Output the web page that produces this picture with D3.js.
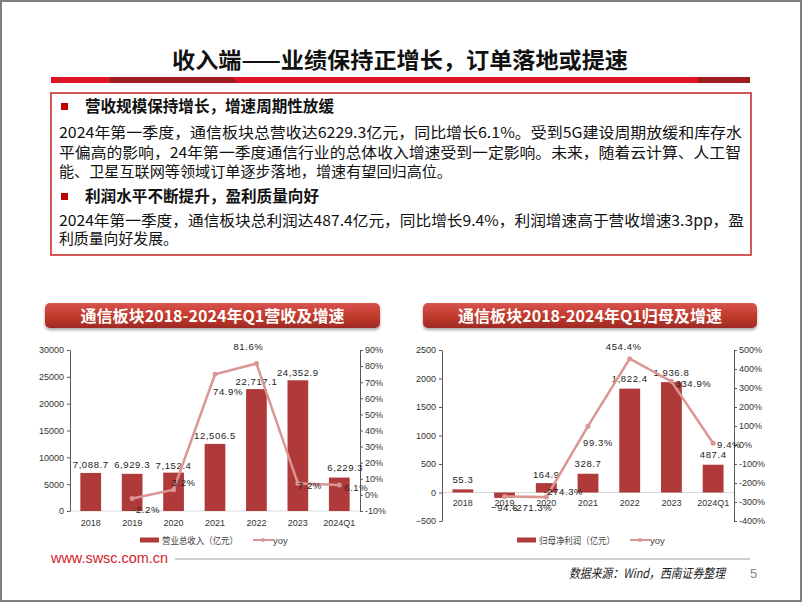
<!DOCTYPE html>
<html><head><meta charset="utf-8">
<script src="https://cdn.jsdelivr.net/npm/d3@7/dist/d3.min.js"></script>
<style>
body{margin:0;background:#fff;}
svg{display:block;}
</style></head>
<body><svg id="c" width="802" height="602"></svg>
<script>
// ---------- DATA ----------
const categories = ["2018","2019","2020","2021","2022","2023","2024Q1"];
const revenue = [7088.7, 6929.3, 7152.4, 12506.5, 22717.1, 24352.9, 6229.3];
const revenueYoy = [null, -2.2, 3.2, 74.9, 81.6, 7.2, 6.1];
const profit = [55.3, -94.6, 164.9, 328.7, 1822.4, 1936.8, 487.4];
const profitYoy = [null, -271.3, -274.3, 99.3, 454.4, 334.9, 9.4];
const revTicks = [0, 5000, 10000, 15000, 20000, 25000, 30000];
const revYoyTicks = [-10, 0, 10, 20, 30, 40, 50, 60, 70, 80, 90];
const profitTicks = [-500, 0, 500, 1000, 1500, 2000, 2500];
const profitYoyTicks = [-400, -300, -200, -100, 0, 100, 200, 300, 400, 500];

const pageTitle = "收入端——业绩保持正增长，订单落地或提速";
const heading1 = "营收规模保持增长，增速周期性放缓";
const body1 = ["2024年第一季度，通信板块总营收达6229.3亿元，同比增长6.1%。受到5G建设周期放缓和库存水",
               "平偏高的影响，24年第一季度通信行业的总体收入增速受到一定影响。未来，随着云计算、人工智",
               "能、卫星互联网等领域订单逐步落地，增速有望回归高位。"];
const heading2 = "利润水平不断提升，盈利质量向好";
const body2 = ["2024年第一季度，通信板块总利润达487.4亿元，同比增长9.4%，利润增速高于营收增速3.3pp，盈",
               "利质量向好发展。"];
const chart1Title = "通信板块2018-2024年Q1营收及增速";
const chart2Title = "通信板块2018-2024年Q1归母及增速";
const legend1Bar = "营业总收入（亿元）";
const legend2Bar = "归母净利润（亿元）";
const legendLine = "yoy";
const siteText = "www.swsc.com.cn";
const sourceText = "数据来源：Wind，西南证券整理";
const pageNum = "5";

// ---------- STYLE ----------
const CJK = "'Noto Sans CJK SC','Noto Sans',sans-serif";
const SANS = "'Liberation Sans',Arial,sans-serif";
const BAR = "#b03a3a";
const LINE = "#d99694";

const svg = d3.select("#c");
const defs = svg.append("defs");

// page border
svg.append("rect").attr("x",1).attr("y",1).attr("width",800).attr("height",600)
  .attr("fill","#fff").attr("stroke","#7f7f7f").attr("stroke-width",2);

// title
svg.append("text").attr("x",400).attr("y",68).attr("text-anchor","middle")
  .attr("font-family",CJK).attr("font-weight",700).attr("font-size",22)
  .attr("textLength",456).attr("lengthAdjust","spacingAndGlyphs")
  .attr("fill","#111").text(pageTitle);

// red bar under title
const tb = svg.append("g");
tb.append("rect").attr("x",51).attr("y",77).attr("width",699).attr("height",6).attr("fill","#dc1424");
tb.append("path").attr("d","M110,77 L232,77 L238,83 L110,83 Z").attr("fill","#9e1b1f");
tb.append("rect").attr("x",698).attr("y",77).attr("width",52).attr("height",6).attr("fill","#9e1b1f");

// text box
svg.append("rect").attr("x",51).attr("y",93).attr("width",700).attr("height",162)
  .attr("fill","none").attr("stroke","#c9302c").attr("stroke-width",1.6);

function bullet(y, txt, w){
  svg.append("rect").attr("x",61).attr("y",y-4).attr("width",7).attr("height",7).attr("fill","#c00000");
  svg.append("text").attr("x",85).attr("y",y+5).attr("font-family",CJK).attr("font-weight",700)
    .attr("font-size",15.5).attr("fill","#111").attr("textLength",w).attr("lengthAdjust","spacingAndGlyphs").text(txt);
}
function bodyLine(y, txt, w){
  svg.append("text").attr("x",59).attr("y",y+5).attr("font-family",CJK).attr("font-size",15)
    .attr("fill","#111").attr("textLength",w).attr("lengthAdjust","spacingAndGlyphs").text(txt);
}
bullet(107, heading1, 249);
const b1w = [683, 682, 393];
body1.forEach((t,i)=>bodyLine(133 + i*19.5, t, b1w[i]));
bullet(197, heading2, 234);
const b2w = [685, 119];
body2.forEach((t,i)=>bodyLine(221 + i*18, t, b2w[i]));

// banner gradient + shadow
const g1 = defs.append("linearGradient").attr("id","bg").attr("x1",0).attr("y1",0).attr("x2",0).attr("y2",1);
g1.append("stop").attr("offset","0%").attr("stop-color","#d9534f");
g1.append("stop").attr("offset","55%").attr("stop-color","#c0392b");
g1.append("stop").attr("offset","100%").attr("stop-color","#9e2a24");
const f = defs.append("filter").attr("id","sh").attr("x","-5%").attr("y","-20%").attr("width","110%").attr("height","160%");
f.append("feDropShadow").attr("dx",0).attr("dy",2).attr("stdDeviation",1.5).attr("flood-color","#000").attr("flood-opacity",0.35);

function banner(x, w, txt){
  svg.append("rect").attr("x",x).attr("y",303).attr("width",w).attr("height",25).attr("rx",5)
    .attr("fill","url(#bg)").attr("filter","url(#sh)");
  svg.append("text").attr("x",x+w/2).attr("y",321.5).attr("text-anchor","middle")
    .attr("font-family",CJK).attr("font-weight",700).attr("font-size",16).attr("fill","#fff")
    .attr("textLength",264).attr("lengthAdjust","spacingAndGlyphs").text(txt);
}
banner(45, 335, chart1Title);
banner(423, 334, chart2Title);

// ---------- CHART FUNCTION ----------
function chart(opt){
  const g = svg.append("g");
  const x = d3.scaleBand().domain(categories).range([opt.x0, opt.x1]).paddingInner(0.5).paddingOuter(0.25);
  const yL = d3.scaleLinear().domain(opt.yLDom).range([opt.yBot, opt.yTop]);
  const yR = d3.scaleLinear().domain(opt.yRDom).range([opt.yBot, opt.yTop]);

  // baseline
  g.append("line").attr("x1",opt.x0).attr("x2",opt.x1).attr("y1",yL(0)).attr("y2",yL(0))
    .attr("stroke","#d9d9d9").attr("stroke-width",1);

  // axes
  const aL = g.append("g").attr("transform",`translate(${opt.x0},0)`)
    .call(d3.axisLeft(yL).tickValues(opt.lTicks).tickSize(3).tickSizeOuter(0).tickFormat(d3.format("d")));
  const aR = g.append("g").attr("transform",`translate(${opt.x1},0)`)
    .call(d3.axisRight(yR).tickValues(opt.rTicks).tickSize(3).tickSizeOuter(0).tickFormat(d=>d+"%"));
  [aL,aR].forEach(a=>{
    a.select(".domain").attr("stroke","#595959");
    a.selectAll(".tick line").attr("stroke","#595959");
    a.selectAll("text").attr("font-family",SANS).attr("font-size",9).attr("fill","#333");
  });
  aL.selectAll("text").attr("x",-6);
  aR.selectAll("text").attr("x",5);

  // category labels
  g.selectAll(".cat").data(categories).join("text")
    .attr("x",d=>x(d)+x.bandwidth()/2).attr("y",opt.catY).attr("text-anchor","middle")
    .attr("font-family",SANS).attr("font-size",9).attr("fill","#333").text(d=>d);

  // bars
  g.selectAll(".bar").data(opt.bars).join("rect")
    .attr("x",(d,i)=>x(categories[i])).attr("width",x.bandwidth())
    .attr("y",d=>Math.min(yL(d),yL(0))).attr("height",d=>Math.abs(yL(d)-yL(0)))
    .attr("fill",BAR);

  // bar labels
  const fmt = d3.format(",.1f");
  g.selectAll(".bl").data(opt.bars).join("text")
    .attr("x",(d,i)=>x(categories[i])+x.bandwidth()/2+opt.barLab[i][0])
    .attr("y",(d,i)=>(d>=0?yL(d):yL(0))+opt.barLab[i][1]+3.5)
    .attr("text-anchor","middle").attr("font-family",SANS).attr("font-size",9.5)
    .attr("letter-spacing",0.6).attr("fill","#222").text(d=>fmt(d));

  // line
  const pts = opt.line.map((v,i)=>({v,i})).filter(p=>p.v!==null);
  const line = d3.line().x(p=>x(categories[p.i])+x.bandwidth()/2).y(p=>yR(p.v));
  g.append("path").datum(pts).attr("d",line).attr("fill","none").attr("stroke",LINE).attr("stroke-width",2.5);
  g.selectAll(".pt").data(pts).join("circle")
    .attr("cx",p=>x(categories[p.i])+x.bandwidth()/2).attr("cy",p=>yR(p.v)).attr("r",2.5).attr("fill",LINE);
  g.selectAll(".ll").data(pts).join("text")
    .attr("x",p=>x(categories[p.i])+x.bandwidth()/2+opt.lineLab[p.i][0])
    .attr("y",p=>yR(p.v)+opt.lineLab[p.i][1]+3.5)
    .attr("text-anchor","middle").attr("font-family",SANS).attr("font-size",9.5)
    .attr("letter-spacing",0.6).attr("fill","#222").text(p=>p.v.toFixed(1)+"%");

  // legend
  const lg = g.append("g");
  lg.append("rect").attr("x",opt.legX).attr("y",537.5).attr("width",19).attr("height",5).attr("fill",BAR);
  lg.append("text").attr("x",opt.legX+22).attr("y",543.5).attr("font-family",CJK).attr("font-size",9.5)
    .attr("fill","#444").attr("textLength",76).attr("lengthAdjust","spacingAndGlyphs").text(opt.legText);
  const lx = opt.legX+113;
  lg.append("line").attr("x1",lx).attr("x2",lx+20).attr("y1",540).attr("y2",540).attr("stroke",LINE).attr("stroke-width",2);
  lg.append("circle").attr("cx",lx+10).attr("cy",540).attr("r",2).attr("fill",LINE);
  lg.append("text").attr("x",lx+20).attr("y",543.5).attr("font-family",SANS).attr("font-size",9.5)
    .attr("fill","#444").text(legendLine);
}

chart({
  x0:70, x1:360, yTop:350, yBot:511,
  yLDom:[0,30000], yRDom:[-10,90], lTicks:revTicks, rTicks:revYoyTicks,
  bars:revenue, line:revenueYoy, catY:526,
  barLab:[[0,-8],[0,-9],[0,-7],[0,-8],[0,-8],[0,-8],[6,-10]],
  lineLab:[[0,0],[14,11],[10,-7],[13,17],[-8,-17],[12,2],[17,2]],
  legX:140, legText:legend1Bar
});
chart({
  x0:442, x1:734, yTop:350, yBot:521,
  yLDom:[-500,2500], yRDom:[-400,500], lTicks:profitTicks, rTicks:profitYoyTicks,
  bars:profit, line:profitYoy, catY:506,
  barLab:[[0,-10],[0,15],[0,-9],[0,-10],[0,-10],[0,-10],[0,-10]],
  lineLab:[[0,0],[28,11],[17,-6],[10,16],[-6,-12],[22,2],[16,1]],
  legX:517, legText:legend2Bar
});

// footer
svg.append("text").attr("x",51).attr("y",563).attr("font-family",SANS).attr("font-size",15)
  .attr("fill","#d2232a").attr("textLength",117).attr("lengthAdjust","spacingAndGlyphs").text(siteText);
svg.append("line").attr("x1",175).attr("x2",750).attr("y1",559).attr("y2",559).attr("stroke","#bfbfbf").attr("stroke-width",1.5);
svg.append("text").attr("x",569).attr("y",578).attr("font-family",CJK)
  .attr("font-style","italic").attr("font-size",13).attr("fill","#222")
  .attr("textLength",156).attr("lengthAdjust","spacingAndGlyphs").text(sourceText);
svg.append("text").attr("x",750).attr("y",578).attr("font-family",SANS).attr("font-size",13).attr("fill","#888").text(pageNum);
</script></body></html>
